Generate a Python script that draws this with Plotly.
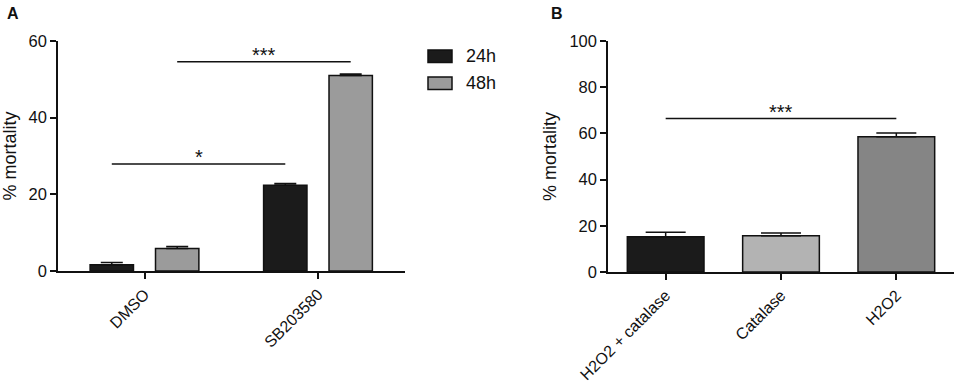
import plotly.graph_objects as go

# ---- Data ----
groups_a = ["DMSO", "SB203580"]
series_a = ["24h", "48h"]
vals_24h = [1.6, 22.4]
err_24h = [0.6, 0.4]
vals_48h = [5.9, 51.0]
err_48h = [0.5, 0.4]

cats_b = ["H2O2 + catalase", "Catalase", "H2O2"]
vals_b = [15.3, 15.7, 58.5]
err_b = [1.9, 1.2, 1.7]

sig_a = [("*", 27.9), ("***", 54.6)]
sig_b = [("***", 66.4)]

FONT = "Arial, Liberation Sans, sans-serif"
DARK = "#1b1b1b"
GRAY_A = "#9b9b9b"
COLORS_B = ["#1b1b1b", "#b3b3b3", "#858585"]

fig = go.Figure()

# Panel A bars
fig.add_trace(go.Bar(
    x=groups_a, y=vals_24h, name=series_a[0], xaxis="x", yaxis="y",
    marker=dict(color=DARK, line=dict(color="#111", width=1.5)),
    width=0.25, offset=-0.315,
    error_y=dict(type="data", array=err_24h, arrayminus=[0, 0], symmetric=False,
                 color="#111", thickness=1.5, width=11),
    showlegend=False,
))
fig.add_trace(go.Bar(
    x=groups_a, y=vals_48h, name=series_a[1], xaxis="x", yaxis="y",
    marker=dict(color=GRAY_A, line=dict(color="#111", width=1.5)),
    width=0.25, offset=0.062,
    error_y=dict(type="data", array=err_48h, arrayminus=[0, 0], symmetric=False,
                 color="#111", thickness=1.5, width=11),
    showlegend=False,
))

# Panel B bars
fig.add_trace(go.Bar(
    x=cats_b, y=vals_b, xaxis="x2", yaxis="y2",
    marker=dict(color=COLORS_B, line=dict(color="#111", width=1.5)),
    width=0.665,
    error_y=dict(type="data", array=err_b, arrayminus=[0, 0, 0], symmetric=False,
                 color="#111", thickness=1.5, width=20),
    showlegend=False,
))

axis_common = dict(
    showline=True, linecolor="#111", linewidth=1.5,
    ticks="outside", ticklen=6, tickwidth=1.5, tickcolor="#111",
    showgrid=False, zeroline=False, automargin=False,
)
ytickfont = dict(family=FONT, size=16.5, color="#111")
xtickfont = dict(family=FONT, size=16, color="#111")
ytitle = dict(text="% mortality", font=dict(family=FONT, size=18, color="#111"), standoff=8)

shapes = []
annotations = []
star_font = dict(family=FONT, size=20, color="#111")

# significance bars panel A
a_centers_24 = [-0.19, 1 - 0.19]
a_centers_48 = [0.187, 1 + 0.187]
for (txt, yv), cx in zip(sig_a, [a_centers_24, a_centers_48]):
    shapes.append(dict(type="line", xref="x", yref="y", x0=cx[0], x1=cx[1],
                       y0=yv, y1=yv, line=dict(color="#111", width=1.5)))
    annotations.append(dict(xref="x", yref="y", x=(cx[0] + cx[1]) / 2, y=yv,
                            text=txt, showarrow=False, yanchor="bottom", yshift=-6,
                            font=star_font))

# significance bar panel B
shapes.append(dict(type="line", xref="x2", yref="y2", x0=0, x1=2,
                   y0=sig_b[0][1], y1=sig_b[0][1], line=dict(color="#111", width=1.5)))
annotations.append(dict(xref="x2", yref="y2", x=1, y=sig_b[0][1], text=sig_b[0][0],
                        showarrow=False, yanchor="bottom", yshift=-6, font=star_font))

# custom legend (panel A)
W, H = 957, 382
leg_items = [(series_a[0], DARK, 50), (series_a[1], GRAY_A, 77)]
for name, col, ytop in leg_items:
    shapes.append(dict(type="rect", xref="paper", yref="paper",
                       x0=428 / W, x1=452 / W, y0=1 - (ytop + 12.5) / H, y1=1 - ytop / H,
                       fillcolor=col, line=dict(color="#111", width=1.5)))
    annotations.append(dict(xref="paper", yref="paper", x=464 / W, y=1 - (ytop + 6.5) / H,
                            text=name, showarrow=False, xanchor="left", yanchor="middle",
                            font=dict(family=FONT, size=18, color="#111")))

# panel letters
annotations.append(dict(xref="paper", yref="paper", x=5 / W, y=1 - 3 / H, text="<b>A</b>",
                        showarrow=False, xanchor="left", yanchor="top",
                        font=dict(family=FONT, size=16, color="#111")))
annotations.append(dict(xref="paper", yref="paper", x=549 / W, y=1 - 3 / H, text="<b>B</b>",
                        showarrow=False, xanchor="left", yanchor="top",
                        font=dict(family=FONT, size=16, color="#111")))

fig.update_layout(
    width=W, height=H,
    margin=dict(l=0, r=0, t=0, b=0, autoexpand=False),
    paper_bgcolor="white", plot_bgcolor="white",
    barmode="overlay",
    font=dict(family=FONT, color="#111"),
    xaxis=dict(domain=[58 / W, 405 / W], anchor="y", range=[-0.5, 1.5],
               tickangle=-45, type="category", tickfont=xtickfont, **axis_common),
    yaxis=dict(domain=[(H - 271) / H, (H - 41) / H], anchor="x", range=[0, 60],
               tickvals=[0, 20, 40, 60], tickfont=ytickfont, title=ytitle, **axis_common),
    xaxis2=dict(domain=[608 / W, 954 / W], anchor="y2", range=[-0.5, 2.5],
                tickangle=-45, type="category", tickfont=xtickfont, **axis_common),
    yaxis2=dict(domain=[(H - 272) / H, (H - 41) / H], anchor="x2", range=[0, 100],
                tickvals=[0, 20, 40, 60, 80, 100], tickfont=ytickfont, title=ytitle, **axis_common),
    shapes=shapes,
    annotations=annotations,
)

fig.write_html(
    "out.html",
    config={"displayModeBar": False},
    post_script="document.body.style.margin='0';document.body.style.overflow='hidden';",
)
